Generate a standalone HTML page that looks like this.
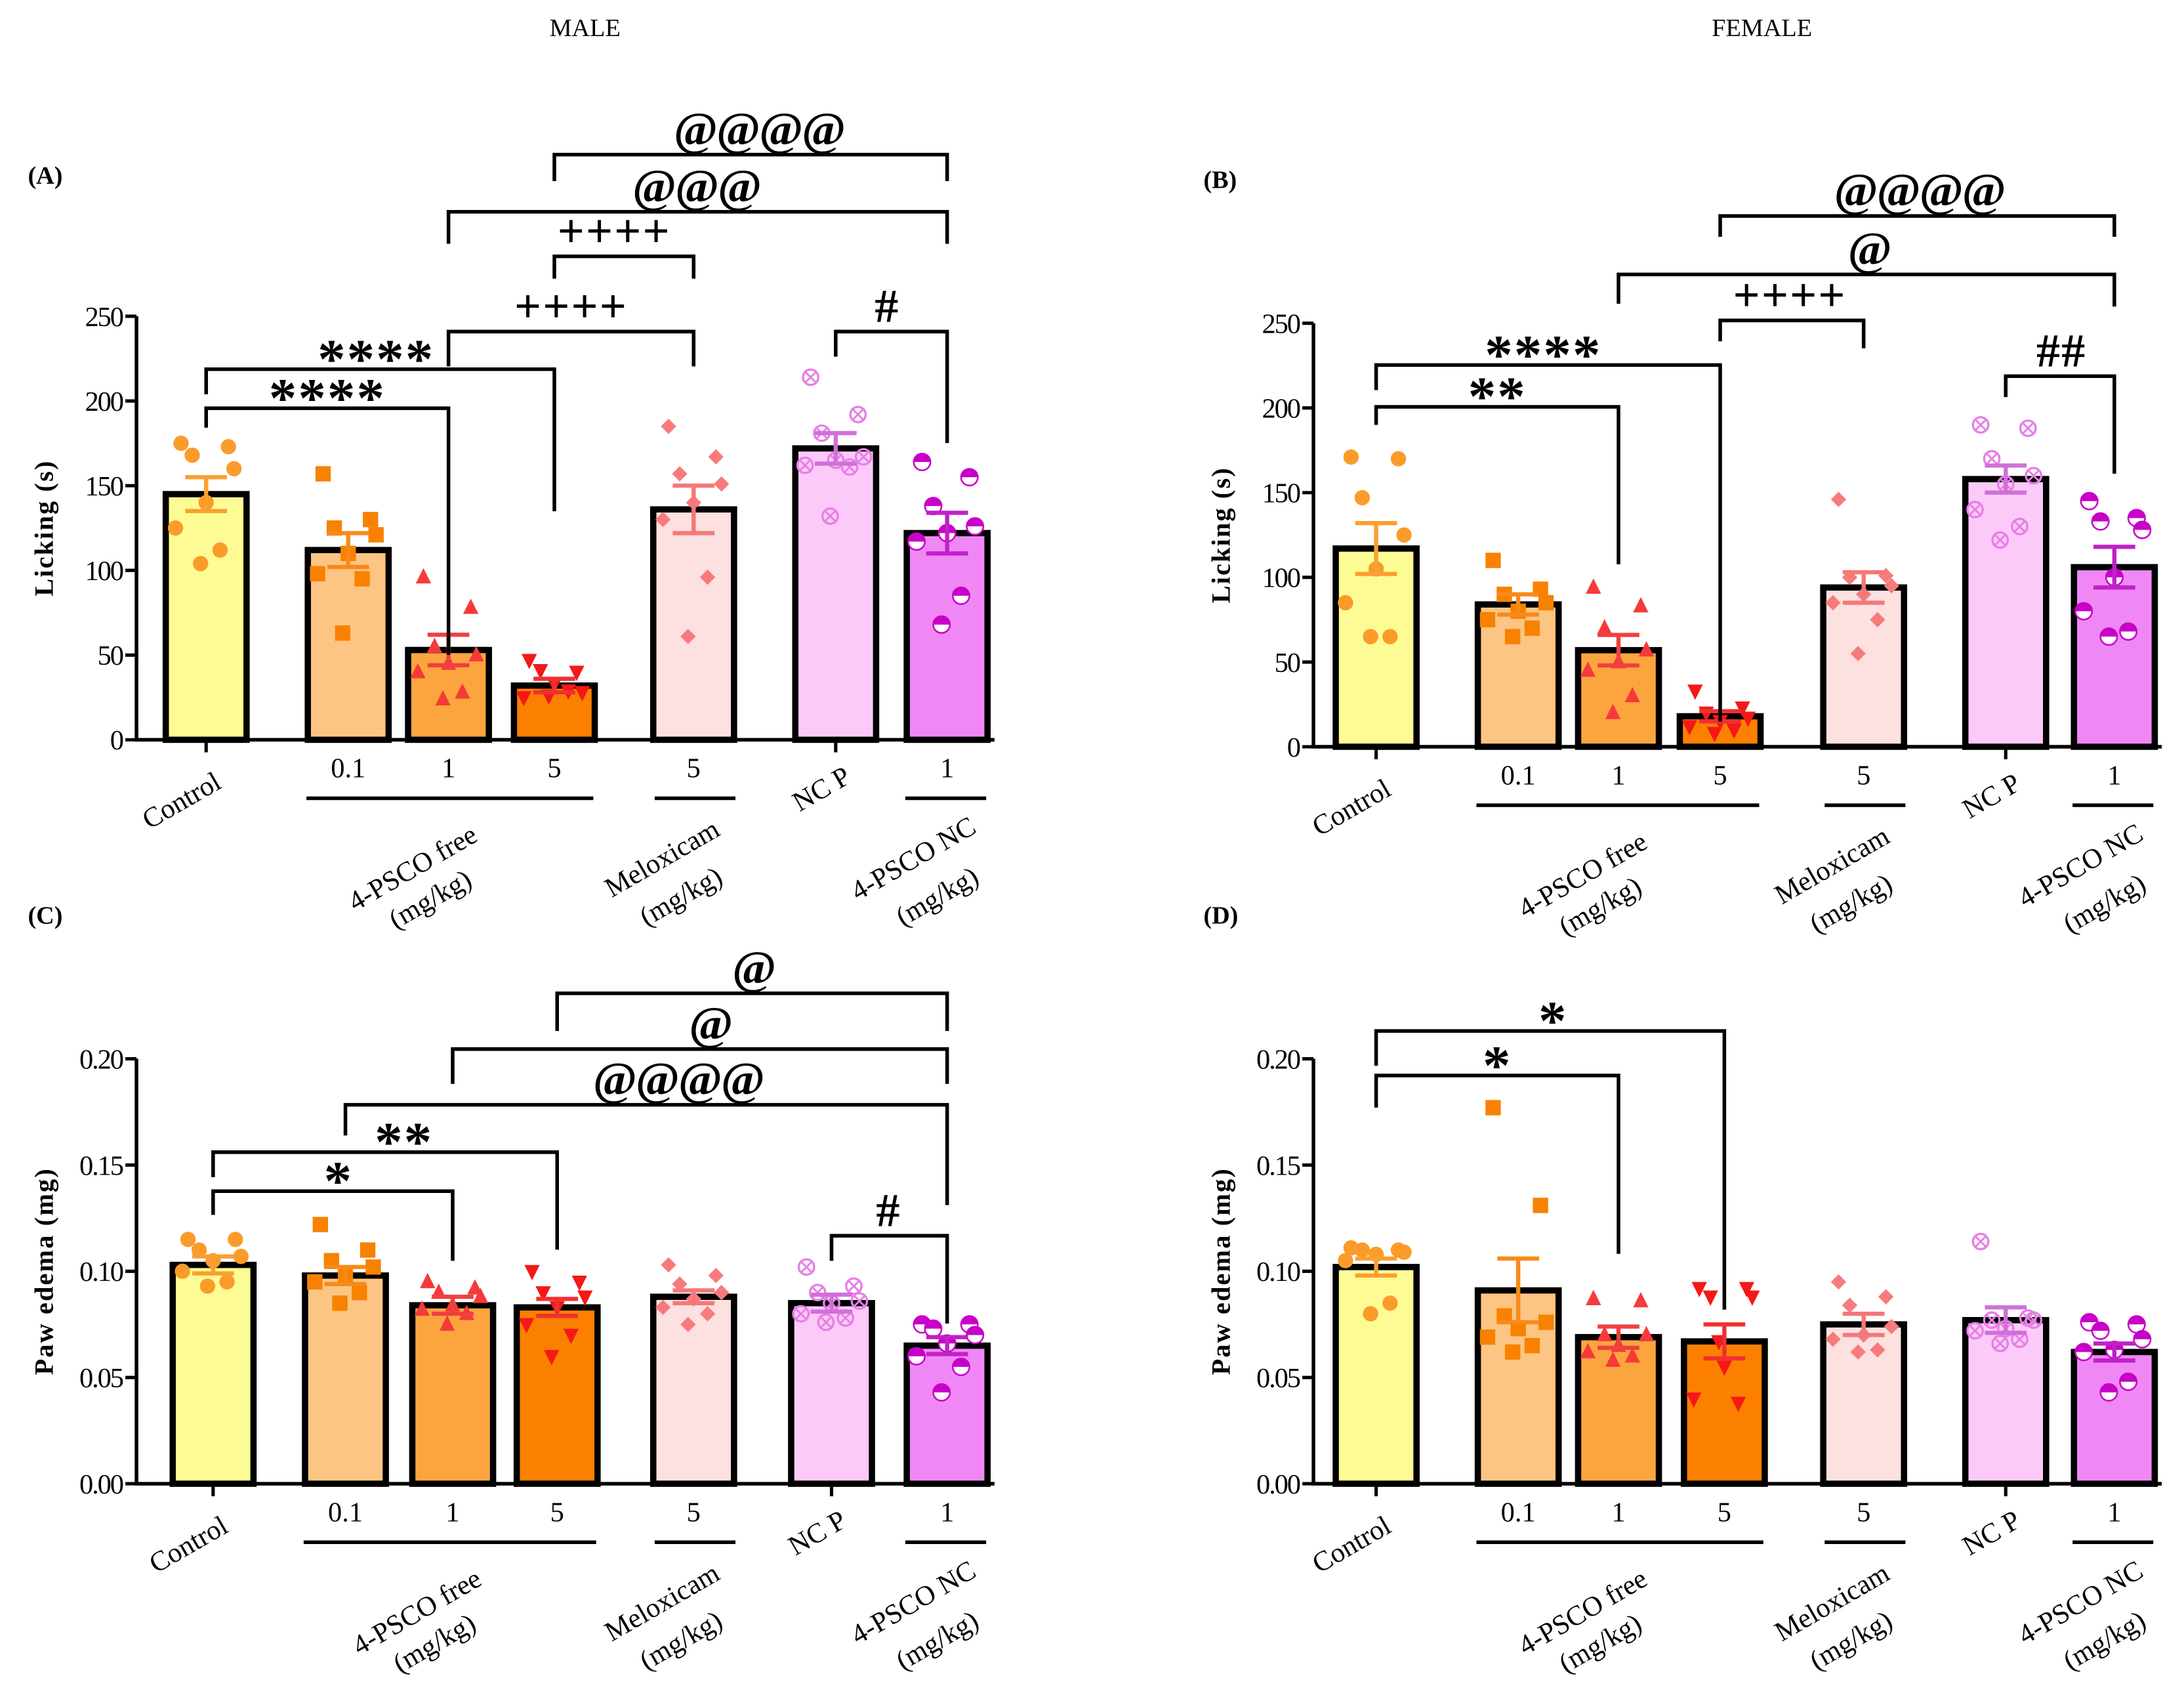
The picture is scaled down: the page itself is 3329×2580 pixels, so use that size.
<!DOCTYPE html>
<html><head><meta charset="utf-8"><style>
html,body{margin:0;padding:0;background:#fff;}
svg{display:block;}
text{font-family:"Liberation Serif",serif;fill:#000;}
</style></head>
<body>
<svg id="fig" width="3329" height="2580" viewBox="0 0 1568 1215.2" xmlns="http://www.w3.org/2000/svg">
<text x="420" y="26" font-size="18" text-anchor="middle">MALE</text>
<text x="1265" y="26" font-size="18" text-anchor="middle">FEMALE</text>
</svg>
<script>
const groupNames = ["Control","0.1","1","5","5m","NCP","NC"];
const tickLabelsLick = ["0","50","100","150","200","250"];
const tickValsLick = [0,50,100,150,200,250];
const tickLabelsPaw = ["0.00","0.05","0.10","0.15","0.20"];
const tickValsPaw = [0,0.05,0.10,0.15,0.20];

const meanA = [145,112,53,32,136,172,122];
const semA = [10,10,9,4,14,9,12];
const ptsA = [[175,173,168,160,140,125,112,104],[157,130,125,121,110,98,95,63],[96,78,55,50,45,40,28,24],[47,40,41,28,33,25,29,26],[185,167,157,151,140,130,96,61],[214,192,181,167,165,162,161,132],[164,155,138,126,122,117,85,68]];
const meanB = [117,84,57,18,94,158,106];
const semB = [15,6,9,3,9,8,12];
const ptsB = [[171,170,147,125,105,85,65,65],[110,93,90,85,80,75,70,65],[94,83,70,57,50,45,30,20],[33,23,20,17,15,12,10,8],[146,101,100,95,90,85,75,55],[190,188,170,160,155,140,130,122],[145,135,133,128,100,80,68,65]];
const meanC = [0.103,0.098,0.084,0.083,0.088,0.085,0.065];
const semC = [0.004,0.004,0.004,0.004,0.003,0.004,0.004];
const ptsC = [[0.115,0.115,0.11,0.107,0.105,0.10,0.095,0.093],[0.122,0.11,0.105,0.102,0.098,0.095,0.09,0.085],[0.095,0.092,0.09,0.088,0.084,0.082,0.08,0.075],[0.10,0.095,0.09,0.088,0.083,0.075,0.07,0.06],[0.103,0.098,0.094,0.09,0.087,0.083,0.08,0.075],[0.102,0.093,0.09,0.086,0.085,0.08,0.078,0.076],[0.075,0.075,0.073,0.07,0.066,0.06,0.055,0.043]];
const meanD = [0.102,0.091,0.069,0.067,0.075,0.077,0.062];
const semD = [0.004,0.015,0.005,0.008,0.005,0.006,0.004];
const ptsD = [[0.111,0.11,0.11,0.109,0.108,0.105,0.085,0.08],[0.177,0.131,0.079,0.076,0.073,0.069,0.065,0.062],[0.087,0.086,0.07,0.07,0.065,0.062,0.06,0.058],[0.092,0.092,0.088,0.088,0.055,0.04,0.038,0.067],[0.095,0.088,0.084,0.074,0.07,0.068,0.063,0.062],[0.114,0.078,0.077,0.077,0.073,0.072,0.068,0.066],[0.076,0.075,0.072,0.068,0.063,0.062,0.048,0.043]];

const fills = ["#fdfb94","#fcc583","#fca53f","#fc8000","#fde0e0","#fccaf8","#ef88f5"];
const ptCol = ["#fb9b2a","#f88100","#f63a3a","#f51818","#f77b7b","#e680e6","#c800c8"];
const errCol = ["#f9a030","#f88a1a","#f04040","#f03030","#f47878","#d070d8","#c020c8"];
const shapes = ["circle","square","tri","tridown","diamond","xcircle","half"];
const jit = [-18,16,-10,20,0,-22,10,-4];

const NS="http://www.w3.org/2000/svg";
const svg=document.getElementById('fig');
function mk(tag,attrs,parent,txt){const e=document.createElementNS(NS,tag);for(const k in attrs)e.setAttribute(k,attrs[k]);if(txt!==undefined)e.textContent=txt;(parent||svg).appendChild(e);return e;}

function marker(g,shape,x,y,c){
  const r=5.5;let e;
  if(shape==="circle"){e=mk('circle',{cx:x,cy:y,r:r,fill:c},g);}
  else if(shape==="square"){e=mk('rect',{x:x-r,y:y-r,width:2*r,height:2*r,fill:c},g);}
  else if(shape==="tri"){e=mk('polygon',{points:`${x},${y-r-1} ${x-r},${y+r-1} ${x+r},${y+r-1}`,fill:c},g);}
  else if(shape==="tridown"){e=mk('polygon',{points:`${x},${y+r+1} ${x-r},${y-r+1} ${x+r},${y-r+1}`,fill:c},g);}
  else if(shape==="diamond"){e=mk('polygon',{points:`${x},${y-r} ${x+r},${y} ${x},${y+r} ${x-r},${y}`,fill:c},g);}
  else if(shape==="xcircle"){e=mk('g',{},g);mk('circle',{cx:x,cy:y,r:r,fill:'none',stroke:c,'stroke-width':1.6},e);mk('path',{d:`M${x-3.5},${y-3.5}L${x+3.5},${y+3.5}M${x+3.5},${y-3.5}L${x-3.5},${y+3.5}`,stroke:c,'stroke-width':1.4},e);}
  else {e=mk('g',{},g);mk('circle',{cx:x,cy:y,r:r+0.5,fill:'#fff',stroke:c,'stroke-width':1.2},e);mk('path',{d:`M${x-r-0.5},${y}A${r+0.5},${r+0.5} 0 0 1 ${x+r+0.5},${y}Z`,fill:c},e);}
  
  
}

function panel(cfg){
  const g=mk('g',{});
  
  
  const y=v=>cfg.y0-v/cfg.max*(cfg.y0-cfg.yTop);
  const lbl=mk('text',{x:cfg.plabel[0],y:cfg.plabel[1],'font-size':18,'font-weight':'bold'},g,cfg.letter);
  
  
  cfg.means.forEach((m,i)=>{
    const cx=cfg.cx[i];
    const b=mk('rect',{x:cx-29,y:y(m),width:58,height:cfg.y0-y(m),fill:fills[i],stroke:'#000','stroke-width':4.5},g);
    
    
  });
  cfg.pts.forEach((arr,i)=>{arr.forEach((v,j)=>marker(g,shapes[i],cfg.cx[i]+jit[j],y(v),ptCol[i]));});
  cfg.means.forEach((m,i)=>{
    const cx=cfg.cx[i],s=cfg.sem[i];
    const e=mk('path',{d:`M${cx},${y(m-s)}V${y(m+s)}M${cx-15},${y(m+s)}H${cx+15}M${cx-15},${y(m-s)}H${cx+15}`,stroke:errCol[i],'stroke-width':3,fill:'none'},g);
    
    
  });
  const ax=mk('path',{d:`M${cfg.x0},${cfg.yTop}V${cfg.y0}H${cfg.xEnd}`,stroke:'#000','stroke-width':2.6,fill:'none'},g);
  
  
  cfg.tickVals.forEach((t,i)=>{
    mk('line',{x1:cfg.x0-8,x2:cfg.x0,y1:y(t),y2:y(t),stroke:'#000','stroke-width':2.4},g);
    const tl=mk('text',{x:cfg.x0-10,y:y(t)+7,'font-size':20,'text-anchor':'end','letter-spacing':'-1'},g,cfg.tickLabels[i]);
    
    
  });
  [0,5].forEach(i=>mk('line',{x1:cfg.cx[i],x2:cfg.cx[i],y1:cfg.y0,y2:cfg.y0+9,stroke:'#000','stroke-width':2.4},g));
  const yl=mk('text',{x:0,y:0,'font-size':19,'font-weight':'bold','text-anchor':'middle',transform:`translate(${cfg.x0-60},${(cfg.y0+cfg.yTop)/2}) rotate(-90)`,'letter-spacing':'1'},g,cfg.ylabel);
  
  
  const yt=cfg.y0+27;
  [[1,"0.1"],[2,"1"],[3,"5"],[4,"5"],[6,"1"]].forEach(([i,t])=>{
    const e=mk('text',{x:cfg.cx[i],y:yt,'font-size':20,'text-anchor':'middle'},g,t);
    
    
  });
  const rot=(x,yy,t,anchor)=>{const e=mk('text',{x:0,y:0,'font-size':20,'text-anchor':anchor||'end',transform:`translate(${x},${yy}) rotate(-30)`},g,t);};
  rot(cfg.cx[0]+12,cfg.y0+34,"Control");
  rot(cfg.cx[5]+12,cfg.y0+30,"NC P");
  const gl=cfg.y0+42;
  [[cfg.cx[1]-30,cfg.cx[3]+28],[cfg.cx[4]-28,cfg.cx[4]+30],[cfg.cx[6]-30,cfg.cx[6]+28]].forEach(([a,b])=>{
    const e=mk('line',{x1:a,x2:b,y1:gl,y2:gl,stroke:'#000','stroke-width':2.6},g);
    
    
  });
  rot(cfg.cx[2]+22,gl+30,"4-PSCO free");
  rot(cfg.cx[2]+18,gl+62,"(mg/kg)");
  rot(cfg.cx[4]+20,gl+26,"Meloxicam");
  rot(cfg.cx[4]+22,gl+60,"(mg/kg)");
  rot(cfg.cx[6]+22,gl+24,"4-PSCO NC");
  rot(cfg.cx[6]+24,gl+60,"(mg/kg)");
  cfg.brackets.forEach(bk=>{
    const [a,b,yy,dl,dr,txt,tx]=bk;
    const xa=cfg.cx[a],xb=cfg.cx[b];
    const e=mk('path',{d:`M${xa},${dl}V${yy}H${xb}V${dr}`,stroke:'#000','stroke-width':2.6,fill:'none'},g);
    
    
    const star=txt[0]==='*';
    const t=mk('text',{x:tx,y:yy-(star?-6:7),'font-size':star?40:34,'font-weight':'bold','text-anchor':'middle','letter-spacing':txt[0]==='@'?-1:1},g,txt);
    
    
  });
}

panel({name:'panel-a',letter:'(A)',plabel:[20,132],x0:98,xEnd:714,y0:531,yTop:227,max:250,cx:[148,250,322,398,498,600,680],means:meanA,sem:semA,pts:ptsA,tickVals:tickValsLick,tickLabels:tickLabelsLick,ylabel:'Licking (s)',
 brackets:[[3,6,111,130,130,'@@@@',545],[2,6,152,175,175,'@@@',500],[3,4,184,200,200,'++++',441],[2,4,238,263,263,'++++',410],[0,3,265,283,367,'****',270],[0,2,293,307,470,'****',235],[5,6,238,256,318,'#',637]]});
panel({name:'panel-b',letter:'(B)',plabel:[864,135],x0:943,xEnd:1552,y0:536,yTop:232,max:250,cx:[988,1090,1162,1235,1338,1440,1518],means:meanB,sem:semB,pts:ptsB,tickVals:tickValsLick,tickLabels:tickLabelsLick,ylabel:'Licking (s)',
 brackets:[[3,6,155,170,170,'@@@@',1378],[2,6,197,218,220,'@',1342],[3,4,230,245,250,'++++',1285],[0,3,262,280,518,'****',1108],[0,2,292,305,405,'**',1075],[5,6,270,285,340,'##',1480]]});
panel({name:'panel-c',letter:'(C)',plabel:[20,663],x0:98,xEnd:714,y0:1065,yTop:760,max:0.2,cx:[153,248,325,400,498,597,680],means:meanC,sem:semC,pts:ptsC,tickVals:tickValsPaw,tickLabels:tickLabelsPaw,ylabel:'Paw edema (mg)',
 brackets:[[3,6,713,740,740,'@',541],[2,6,753,778,778,'@',510],[1,6,793,815,865,'@@@@',487],[0,3,827,845,897,'**',290],[0,2,855,872,905,'*',243],[5,6,887,905,950,'#',638]]});
panel({name:'panel-d',letter:'(D)',plabel:[864,663],x0:943,xEnd:1552,y0:1065,yTop:760,max:0.2,cx:[988,1090,1162,1238,1338,1440,1518],means:meanD,sem:semD,pts:ptsD,tickVals:tickValsPaw,tickLabels:tickLabelsPaw,ylabel:'Paw edema (mg)',
 brackets:[[0,3,740,765,940,'*',1115],[0,2,772,795,900,'*',1075]]});
</script>
</body></html>
